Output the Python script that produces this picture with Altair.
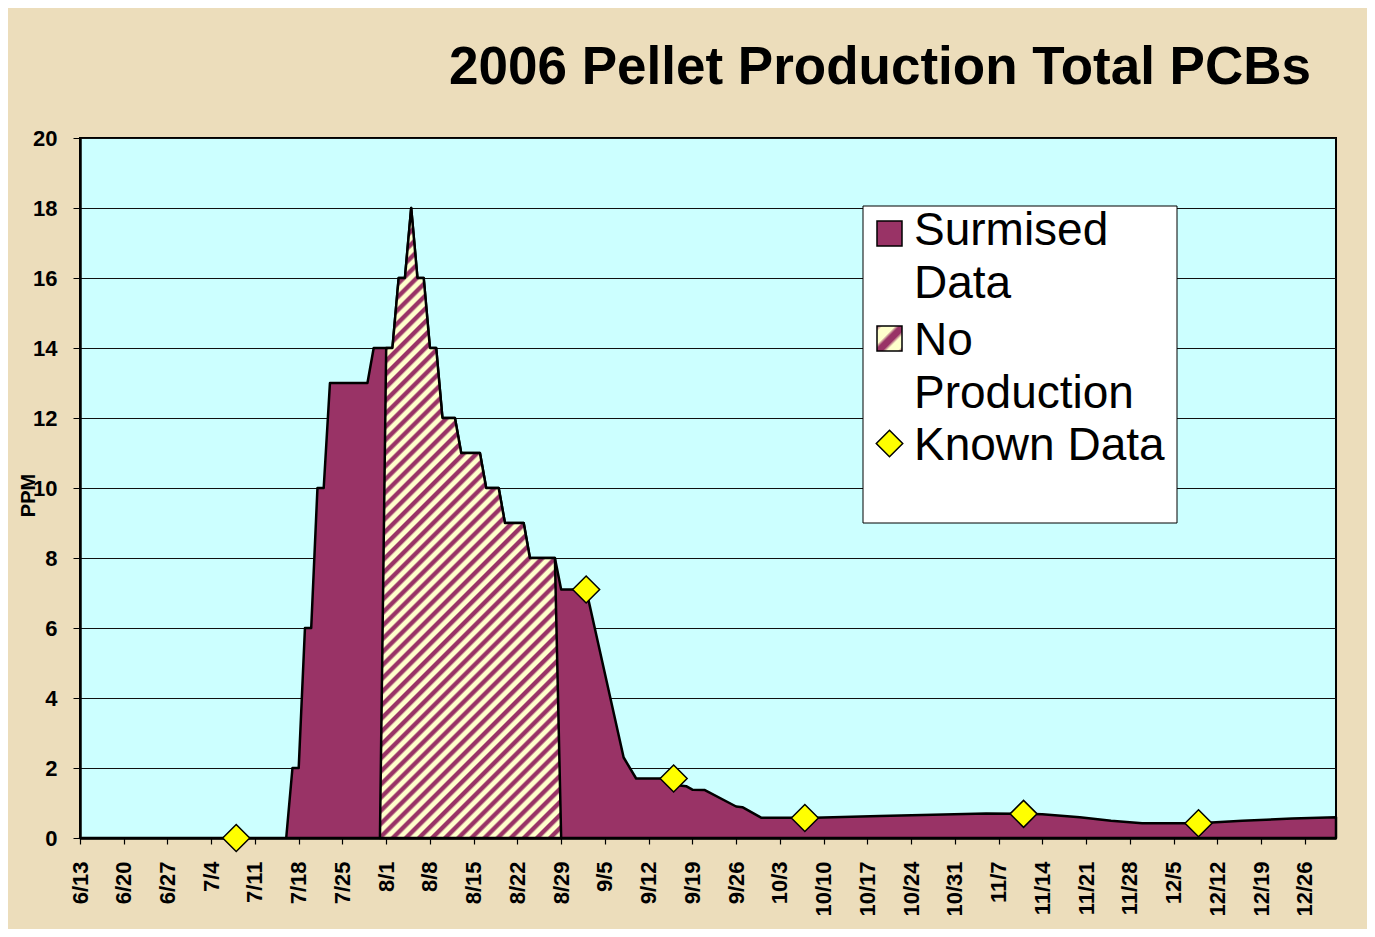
import altair as alt
import pandas as pd

# ---------------- data ----------------
title_text = "2006 Pellet Production Total PCBs"
y_title = "PPM"

surmised_dates = [
    "2006-06-13", "2006-07-16", "2006-07-17", "2006-07-18", "2006-07-19",
    "2006-07-20", "2006-07-21", "2006-07-22", "2006-07-23", "2006-07-29",
    "2006-07-30", "2006-07-31", "2006-08-02", "2006-08-03", "2006-08-04",
    "2006-08-05", "2006-08-06", "2006-08-07", "2006-08-08", "2006-08-09",
    "2006-08-10", "2006-08-12", "2006-08-13", "2006-08-16", "2006-08-17",
    "2006-08-19", "2006-08-20", "2006-08-23", "2006-08-24", "2006-08-28",
    "2006-08-29", "2006-09-02", "2006-09-08", "2006-09-10", "2006-09-16",
    "2006-09-17", "2006-09-18", "2006-09-19", "2006-09-21", "2006-09-26",
    "2006-09-27", "2006-09-30", "2006-10-05", "2006-10-07", "2006-10-19",
    "2006-11-05", "2006-11-11", "2006-11-14", "2006-11-20", "2006-11-25",
    "2006-11-30", "2006-12-09", "2006-12-16", "2006-12-24", "2006-12-31",
]
surmised_ppm = [
    0, 0, 2, 2, 6,
    6, 10, 10, 13, 13,
    14, 14, 14, 16, 16,
    18, 16, 16, 14, 14,
    12, 12, 11, 11, 10,
    10, 9, 9, 8, 8,
    7.1, 7.1, 2.3, 1.7, 1.7,
    1.5, 1.48, 1.38, 1.37, 0.9,
    0.88, 0.58, 0.58, 0.57, 0.63,
    0.70, 0.69, 0.68, 0.59, 0.49,
    0.42, 0.42, 0.49, 0.56, 0.59,
]

no_prod_dates = [
    "2006-07-31", "2006-08-01", "2006-08-02", "2006-08-03", "2006-08-04",
    "2006-08-05", "2006-08-06", "2006-08-07", "2006-08-08", "2006-08-09",
    "2006-08-10", "2006-08-12", "2006-08-13", "2006-08-16", "2006-08-17",
    "2006-08-19", "2006-08-20", "2006-08-23", "2006-08-24", "2006-08-28",
    "2006-08-29",
]
no_prod_ppm = [
    0, 14, 14, 16, 16,
    18, 16, 16, 14, 14,
    12, 12, 11, 11, 10,
    10, 9, 9, 8, 8,
    0,
]

known_dates = ["2006-07-08", "2006-09-02", "2006-09-16", "2006-10-07", "2006-11-11", "2006-12-09"]
known_ppm = [0, 7.1, 1.7, 0.57, 0.69, 0.42]

x_tick_labels = [
    "6/13", "6/20", "6/27", "7/4", "7/11", "7/18", "7/25", "8/1", "8/8", "8/15",
    "8/22", "8/29", "9/5", "9/12", "9/19", "9/26", "10/3", "10/10", "10/17",
    "10/24", "10/31", "11/7", "11/14", "11/21", "11/28", "12/5", "12/12",
    "12/19", "12/26",
]
y_ticks = [0, 2, 4, 6, 8, 10, 12, 14, 16, 18, 20]
x_start = "6/13"
x_end = "12/31"
year = 2006

legend_lines = [["Surmised", "Data"], ["No", "Production"], ["Known Data"]]

# ---------------- styling ----------------
MAROON = "#993366"
CREAM = "#FFFFCC"
YELLOW = "#FFFF00"
FONT = "Liberation Sans"


def md(s, utc=True):
    m, d = s.split("/")
    return alt.DateTime(year=year, month=int(m), date=int(d), utc=utc)


def stripe_stops(n, dark=0.3, fade=0.5, light=0.85):
    pts = []
    for k in range(n):
        o = k / n
        p = 1.0 / n
        pts += [(o, MAROON), (o + dark * p, MAROON), (o + fade * p, CREAM), (o + light * p, CREAM)]
    pts.append((1.0, MAROON))
    return [alt.GradientStop(offset=round(o, 5), color=c) for o, c in pts]


hatch_fill = alt.LinearGradient(
    gradient="linear", stops=stripe_stops(62), x1=0, y1=0, x2=0.341, y2=1.189
)
legend_hatch_fill = alt.LinearGradient(
    gradient="linear",
    stops=[
        alt.GradientStop(offset=0.0, color=MAROON),
        alt.GradientStop(offset=0.12, color=CREAM),
        alt.GradientStop(offset=0.36, color=CREAM),
        alt.GradientStop(offset=0.45, color=MAROON),
        alt.GradientStop(offset=0.6, color=MAROON),
        alt.GradientStop(offset=0.69, color=CREAM),
        alt.GradientStop(offset=0.9, color=CREAM),
        alt.GradientStop(offset=1.0, color=MAROON),
    ],
    x1=0, y1=0, x2=1, y2=1,
)

surmised_df = pd.DataFrame({"date": surmised_dates, "ppm": surmised_ppm})
no_prod_df = pd.DataFrame({"date": no_prod_dates, "ppm": no_prod_ppm})
known_df = pd.DataFrame({"date": known_dates, "ppm": known_ppm})
one_row = pd.DataFrame({"k": [0]})

x_axis = alt.Axis(
    values=[md(s) for s in x_tick_labels],
    labelExpr="utcFormat(datum.value, '%-m/%-d')",
    labelAngle=-90,
    labelAlign="right",
    labelBaseline="middle",
    labelPadding=17,
    labelOverlap=False,
    labelFlush=False,
    labelFontSize=22,
    labelFontWeight="bold",
    labelFont=FONT,
    labelColor="black",
    tickSize=6,
    tickColor="black",
    tickWidth=1.2,
    domainColor="black",
    domainWidth=2.5,
    grid=False,
    title=None,
)
y_axis = alt.Axis(
    values=y_ticks,
    labelFontSize=22,
    labelFontWeight="bold",
    labelFont=FONT,
    labelColor="black",
    labelPadding=16,
    tickSize=7,
    tickColor="black",
    domainColor="black",
    domainWidth=2.5,
    grid=True,
    gridColor="#111111",
    gridWidth=1,
    title=y_title,
    titleFont=FONT,
    titleFontSize=20,
    titleFontWeight="bold",
    titleColor="black",
    titleAngle=-90,
    titleAlign="center",
    titleBaseline="middle",
    titleX=-52,
    titleY=357,
)

X = alt.X(
    "date:T",
    scale=alt.Scale(type="utc", domain=[md(x_start), md(x_end)], nice=False),
    axis=x_axis,
)
Y = alt.Y("ppm:Q", scale=alt.Scale(domain=[0, 20], nice=False), axis=y_axis)

surmised = alt.Chart(surmised_df).mark_area(
    fill=MAROON, stroke="black", strokeWidth=2.5, strokeJoin="round", interpolate="linear"
).encode(x=X, y=Y)

no_prod = alt.Chart(no_prod_df).mark_area(
    fill=hatch_fill, stroke="black", strokeWidth=2.5, strokeJoin="round", interpolate="linear"
).encode(x=X, y=Y)

known = alt.Chart(known_df).mark_point(
    shape="diamond", filled=True, fill=YELLOW, stroke="black", strokeWidth=1.5, size=729, opacity=1
).encode(x=X, y=Y)

# ---------------- legend (drawn in the top right of the plot) ----------------
legend_box = alt.Chart(one_row).mark_rect(
    fill="white", stroke="black", strokeWidth=1
).encode(x=alt.value(783), x2=alt.value(1097), y=alt.value(68), y2=alt.value(385))

leg_sym1 = alt.Chart(one_row).mark_rect(
    fill=MAROON, stroke="black", strokeWidth=1.5
).encode(x=alt.value(797), x2=alt.value(822), y=alt.value(83), y2=alt.value(108))

leg_sym2 = alt.Chart(one_row).mark_rect(
    fill=legend_hatch_fill, stroke="black", strokeWidth=1.5
).encode(x=alt.value(797), x2=alt.value(822), y=alt.value(188), y2=alt.value(213))

leg_sym3 = alt.Chart(one_row).mark_point(
    shape="diamond", filled=True, fill=YELLOW, stroke="black", strokeWidth=1.5, size=700, opacity=1
).encode(x=alt.value(809.5), y=alt.value(305.5))

leg_texts = []
for lines, ybase in zip(legend_lines, [107, 217, 322]):
    leg_texts.append(
        alt.Chart(one_row).mark_text(
            text=lines, align="left", baseline="alphabetic", fontSize=46,
            font=FONT, color="black", lineHeight=53,
        ).encode(x=alt.value(834), y=alt.value(ybase))
    )

chart = alt.layer(
    surmised, no_prod, known, legend_box, leg_sym1, leg_sym2, leg_sym3, *leg_texts
).properties(
    width=1256,
    height=700,
    autosize=alt.AutoSizeParams(type="none"),
    padding={"left": 72, "top": 130, "right": 31, "bottom": 91},
    title=alt.TitleParams(
        text=title_text,
        anchor="end",
        frame="group",
        font=FONT,
        fontSize=53,
        fontWeight="bold",
        color="black",
        baseline="alphabetic",
        offset=41,
        dx=-25,
        dy=51,
    ),
).configure(
    background="#ECDDBB"
).configure_view(
    fill="#CCFFFF", stroke="black", strokeWidth=2
)

chart.save("out.html", embed_options={"renderer": "svg", "actions": False})
